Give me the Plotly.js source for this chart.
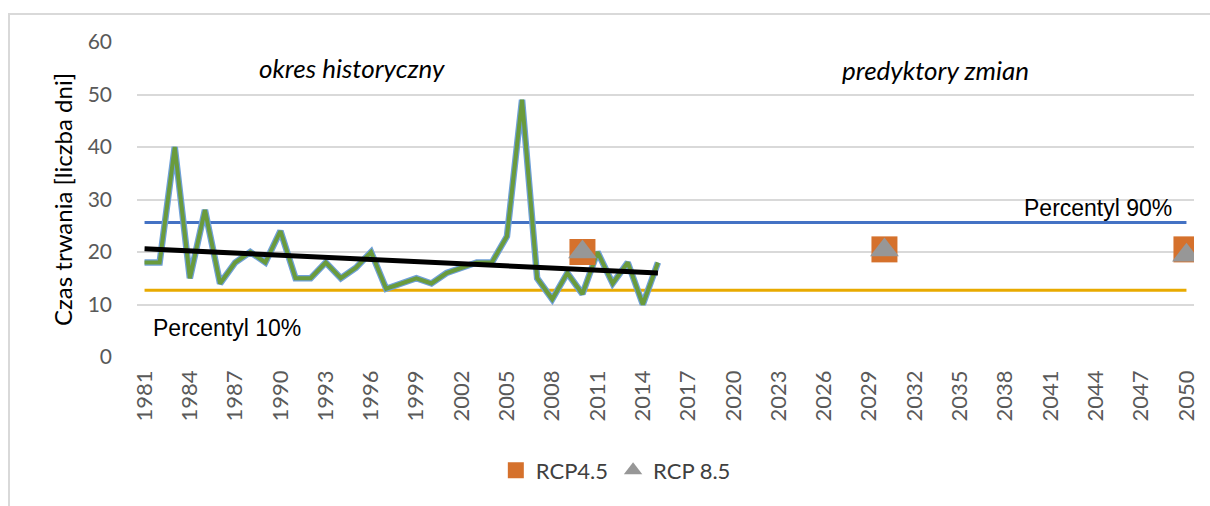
<!DOCTYPE html>
<html>
<head>
<meta charset="utf-8">
<script src="https://cdn.plot.ly/plotly-3.0.1.min.js"></script>
<style>
  html, body { margin: 0; padding: 0; width: 1210px; height: 506px; overflow: hidden; background: #fff; }
  #chart { position: absolute; left: 0; top: 0; width: 1210px; height: 506px; }
  #frame { position: absolute; left: 8px; top: 13px; width: 1300px; height: 700px; border: 2px solid #D9D9D9; pointer-events: none; z-index: 5; }
</style>
</head>
<body>
<div id="chart"></div>
<div id="frame"></div>
<script>
// ---- data ----
const years = [1981,1982,1983,1984,1985,1986,1987,1988,1989,1990,
               1991,1992,1993,1994,1995,1996,1997,1998,1999,2000,
               2001,2002,2003,2004,2005,2006,2007,2008,2009,2010,
               2011,2012,2013,2014,2015];
const duration = [18,18,40,15,28,14,18,20,18,24,
                  15,15,18,15,17,20,13,14,15,14,
                  16,17,18,18,23,49,15,11,16,12,
                  20,14,18,10,18];
const trendYears = [1981, 2015];
const trendValues = [20.6, 16.0];
const percentileYears = [1981, 2050];
const p90 = [25.6, 25.6];
const p10 = [12.7, 12.7];
const scenarioYears = [2010, 2030, 2050];
const rcp45 = [20, 20.5, 20.5];
const rcp85 = [20, 20.4, 19.4];
const xTickVals = [1981,1984,1987,1990,1993,1996,1999,2002,2005,2008,2011,2014,2017,2020,2023,2026,2029,2032,2035,2038,2041,2044,2047,2050];
const xTickText = xTickVals.map(String);
const yTickVals = [0,10,20,30,40,50,60];

const calibri = 'Lato, "Open Sans", sans-serif';
const arial = '"Liberation Sans", Arial, sans-serif';

const traces = [
  { x: percentileYears, y: p90, mode: 'lines', line: {color: '#4472C4', width: 3}, showlegend: false, hoverinfo: 'skip' },
  { x: percentileYears, y: p10, mode: 'lines', line: {color: '#E8AA00', width: 3}, showlegend: false, hoverinfo: 'skip' },
  { x: years, y: duration, mode: 'lines', line: {color: '#6FA0D8', width: 6.5, shape: 'linear'}, showlegend: false, hoverinfo: 'skip' },
  { x: years, y: duration, mode: 'lines', line: {color: '#6A9B3C', width: 4}, showlegend: false },
  { x: trendYears, y: trendValues, mode: 'lines', line: {color: '#000000', width: 5}, showlegend: false },
  { x: scenarioYears, y: rcp45, mode: 'markers', name: 'RCP4.5',
    marker: {symbol: 'square', size: 26, color: '#D5712C'} },
  { x: scenarioYears, y: rcp85, mode: 'markers', name: 'RCP 8.5',
    marker: {symbol: 'triangle-up', size: 25, color: '#979797'} }
];

const layout = {
  width: 1210, height: 506,
  margin: {l: 137, r: 16, t: 42, b: 149},
  paper_bgcolor: 'rgba(0,0,0,0)',
  plot_bgcolor: '#fff',
  showlegend: true,
  legend: {
    orientation: 'h', x: 0.453, xanchor: 'center', y: -0.36, yanchor: 'middle',
    font: {family: calibri, size: 22, color: '#404040'},
    itemwidth: 30, tracegroupgap: 0
  },
  xaxis: {
    range: [1980.5, 2050.5],
    tickmode: 'array', tickvals: xTickVals, ticktext: xTickText,
    tickangle: -90,
    tickfont: {family: calibri, size: 22, color: '#595959'},
    showgrid: false, zeroline: false, showline: false, ticks: '',
    ticklabelstandoff: 8, fixedrange: true
  },
  yaxis: {
    range: [0, 60],
    tickmode: 'array', tickvals: yTickVals,
    tickfont: {family: calibri, size: 21, color: '#595959'},
    gridcolor: '#D9D9D9', gridwidth: 2,
    zeroline: false, showline: false, ticks: '',
    ticklabelstandoff: 24,
    title: {text: 'Czas trwania [liczba dni]', font: {family: calibri, size: 24, color: '#000'}, standoff: 8},
    fixedrange: true
  },
  annotations: [
    {text: 'okres historyczny', xref: 'paper', yref: 'paper', x: 0.2034, y: 0.917, xanchor: 'center', yanchor: 'middle', showarrow: false,
     font: {family: calibri, size: 26, color: '#000', style: 'italic'}},
    {text: 'predyktory zmian', xref: 'paper', yref: 'paper', x: 0.7550, y: 0.911, xanchor: 'center', yanchor: 'middle', showarrow: false,
     font: {family: calibri, size: 26, color: '#000', style: 'italic'}},
    {text: 'Percentyl 90%', xref: 'paper', yref: 'paper', x: 0.9096, y: 0.473, xanchor: 'center', yanchor: 'middle', showarrow: false,
     font: {family: arial, size: 23, color: '#000'}},
    {text: 'Percentyl 10%', xref: 'paper', yref: 'paper', x: 0.0848, y: 0.092, xanchor: 'center', yanchor: 'middle', showarrow: false,
     font: {family: arial, size: 23, color: '#000'}}
  ]
};

Plotly.newPlot('chart', traces, layout, {displayModeBar: false, staticPlot: true});
</script>
</body>
</html>
